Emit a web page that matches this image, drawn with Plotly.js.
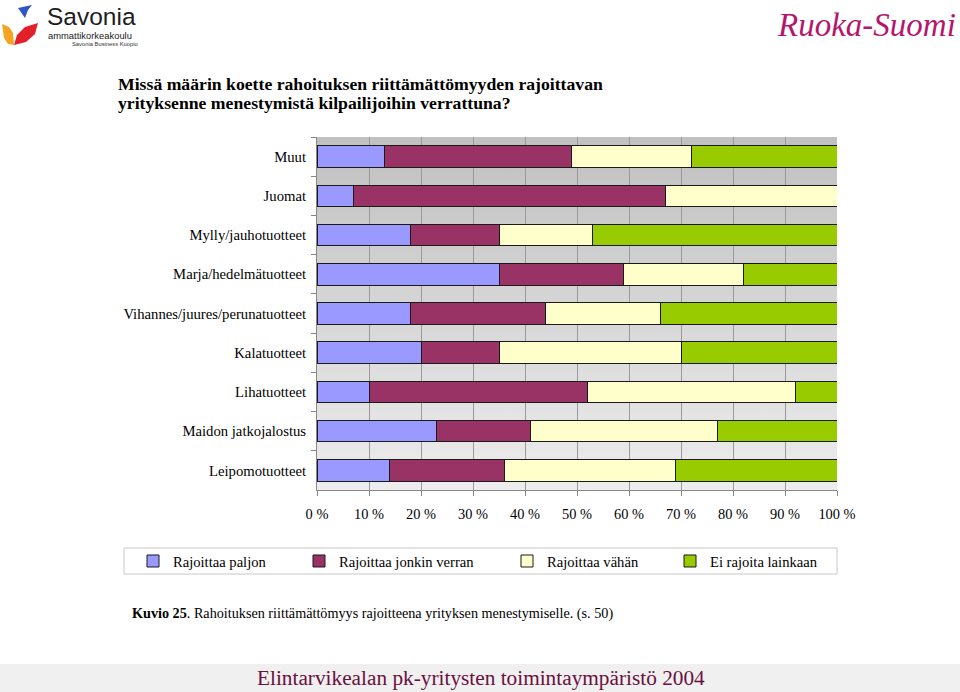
<!DOCTYPE html>
<html>
<head>
<meta charset="utf-8">
<script src="https://cdn.plot.ly/plotly-3.0.1.min.js"></script>
<style>
html,body{margin:0;padding:0;background:#fff;}
#chart{width:960px;height:692px;}
</style>
</head>
<body>
<div id="chart"></div>
<script>
// ---- data (top-to-bottom order) ----
const categories = [
  "Muut",
  "Juomat",
  "Mylly/jauhotuotteet",
  "Marja/hedelmätuotteet",
  "Vihannes/juures/perunatuotteet",
  "Kalatuotteet",
  "Lihatuotteet",
  "Maidon jatkojalostus",
  "Leipomotuotteet"
];
const seriesNames = ["Rajoittaa paljon", "Rajoittaa jonkin verran", "Rajoittaa vähän", "Ei rajoita lainkaan"];
const rajoittaaPaljon       = [13,  7, 18, 35, 18, 20, 10, 23, 14];
const rajoittaaJonkinVerran = [36, 60, 17, 24, 26, 15, 42, 18, 22];
const rajoittaaVahan        = [23, 33, 18, 23, 22, 35, 40, 36, 33];
const eiRajoitaLainkaan     = [28,  0, 47, 18, 34, 30,  8, 23, 31];
const xTickValues = [0,10,20,30,40,50,60,70,80,90,100];
const xTickLabels = ["0 %","10 %","20 %","30 %","40 %","50 %","60 %","70 %","80 %","90 %","100 %"];

const titleLine1 = "Missä määrin koette rahoituksen riittämättömyyden rajoittavan";
const titleLine2 = "yrityksenne menestymistä kilpailijoihin verrattuna?";
const captionText = "<b>Kuvio 25</b>. Rahoituksen riittämättömyys rajoitteena yrityksen menestymiselle. (s. 50)";
const footerText = "Elintarvikealan pk-yritysten toimintaympäristö 2004";

// ---- styling ----
const colors = ["#9999ff", "#993366", "#ffffcc", "#99cc00"];
const legendWidths = [121, 163, 118, 110];
const W = 960, H = 692;
const M = {l: 317, r: 123, t: 137, b: 202, autoexpand: false};
const PW = W - M.l - M.r, PH = H - M.t - M.b;
const px = x => (x - M.l) / PW;
const py = y => (H - M.b - y) / PH;
const path = pts => "M" + pts.map(p => px(p[0]).toFixed(5) + "," + py(p[1]).toFixed(5)).join("L") + "Z";

const serif = "Liberation Serif, Times New Roman, serif";
const sans = "Liberation Sans, Arial, sans-serif";
const allValues = [rajoittaaPaljon, rajoittaaJonkinVerran, rajoittaaVahan, eiRajoitaLainkaan];

const traces = allValues.map((vals, i) => ({
  type: "bar",
  orientation: "h",
  name: seriesNames[i],
  y: categories,
  x: vals,
  marker: {color: colors[i], line: {color: "#1a1a1a", width: 1}},
  legendwidth: legendWidths[i],
  hoverinfo: "x+name"
}));

const gradSvg = '<svg xmlns="http://www.w3.org/2000/svg" width="10" height="100" preserveAspectRatio="none">' +
  '<defs><linearGradient id="g" x1="0" y1="0" x2="0" y2="1">' +
  '<stop offset="0" stop-color="#c0c0c0"/><stop offset="1" stop-color="#ededed"/>' +
  '</linearGradient></defs><rect width="10" height="100" fill="url(#g)"/></svg>';

const layout = {
  width: W, height: H,
  margin: M,
  paper_bgcolor: "#ffffff",
  plot_bgcolor: "rgba(0,0,0,0)",
  barmode: "stack",
  bargap: 0.45,
  font: {family: serif, size: 14, color: "#000"},
  showlegend: true,
  legend: {
    orientation: "h",
    xref: "paper", yref: "paper",
    x: px(133), xanchor: "left",
    y: py(561), yanchor: "middle",
    font: {family: serif, size: 14.6, color: "#000"},
    bgcolor: "rgba(0,0,0,0)",
    borderwidth: 0,
    traceorder: "normal"
  },
  xaxis: {
    range: [0, 100],
    tickvals: xTickValues,
    ticktext: xTickLabels,
    ticks: "outside", ticklen: 5, tickcolor: "#888",
    showgrid: true, gridcolor: "#9a9a9a", gridwidth: 1,
    showline: true, linecolor: "#888", linewidth: 1,
    zeroline: false,
    ticklabelstandoff: 6,
    tickfont: {family: serif, size: 14.4, color: "#000"},
    fixedrange: true
  },
  yaxis: {
    type: "category",
    autorange: "reversed",
    ticks: "outside", ticklen: 5, tickcolor: "#888",
    tickson: "boundaries",
    showgrid: false,
    showline: true, linecolor: "#888", linewidth: 1,
    ticklabelstandoff: 7,
    tickfont: {family: serif, size: 14.7, color: "#000"},
    fixedrange: true
  },
  images: [{
    source: "data:image/svg+xml;charset=utf-8," + encodeURIComponent(gradSvg),
    xref: "paper", yref: "paper",
    x: 0, y: 1, sizex: 1, sizey: 1,
    xanchor: "left", yanchor: "top",
    sizing: "stretch", layer: "below"
  }],
  shapes: [
    // legend frame
    {type: "rect", xref: "paper", yref: "paper", x0: px(124), x1: px(837), y0: py(574), y1: py(548),
     line: {color: "#c8c8c8", width: 1}, fillcolor: "rgba(0,0,0,0)"},
    // footer band
    {type: "rect", xref: "paper", yref: "paper", x0: px(0), x1: px(960), y0: py(692), y1: py(664),
     line: {width: 0}, fillcolor: "#f0f0f0", layer: "below"},
    // logo shapes
    {type: "path", xref: "paper", yref: "paper", path: path([[18,8],[32,5],[28,10],[25,18]]),
     fillcolor: "#2f55c8", line: {width: 0}},
    {type: "path", xref: "paper", yref: "paper", path: path([[2,24],[9,27],[13,33],[14,45],[8,44],[4,38]]),
     fillcolor: "#f5a323", line: {width: 0}},
    {type: "path", xref: "paper", yref: "paper", path: path([[14,45],[17,35],[25,27],[38,23],[35,34],[26,42]]),
     fillcolor: "#e3202a", line: {width: 0}}
  ],
  annotations: [
    {text: titleLine1, xref: "paper", yref: "paper", x: px(116), y: py(84), xanchor: "left", yanchor: "middle",
     showarrow: false, font: {family: serif, size: 17.7, color: "#000", weight: "bold"}},
    {text: titleLine2, xref: "paper", yref: "paper", x: px(116), y: py(103), xanchor: "left", yanchor: "middle",
     showarrow: false, font: {family: serif, size: 17.7, color: "#000", weight: "bold"}},
    {text: captionText, xref: "paper", yref: "paper", x: px(130), y: py(613), xanchor: "left", yanchor: "middle",
     showarrow: false, font: {family: serif, size: 14.2, color: "#000"}},
    {text: footerText, xref: "paper", yref: "paper", x: px(481), y: py(678), xanchor: "center", yanchor: "middle",
     showarrow: false, font: {family: serif, size: 21.3, color: "#6b0f3d"}},
    {text: "Ruoka-Suomi", xref: "paper", yref: "paper", x: px(958), y: py(25), xanchor: "right", yanchor: "middle",
     showarrow: false, font: {family: serif, size: 33, color: "#b5166b", style: "italic"}},
    {text: "Savonia", xref: "paper", yref: "paper", x: px(45), y: py(16.5), xanchor: "left", yanchor: "middle",
     showarrow: false, font: {family: sans, size: 24.5, color: "#1e1e1e"}},
    {text: "ammattikorkeakoulu", xref: "paper", yref: "paper", x: px(46), y: py(35), xanchor: "left", yanchor: "middle",
     showarrow: false, font: {family: sans, size: 9.4, color: "#222"}},
    {text: "Savonia Business Kuopio", xref: "paper", yref: "paper", x: px(140), y: py(43.5), xanchor: "right", yanchor: "middle",
     showarrow: false, font: {family: sans, size: 5.8, color: "#333"}}
  ]
};

Plotly.newPlot("chart", traces, layout, {displayModeBar: false, staticPlot: true});
</script>
</body>
</html>
